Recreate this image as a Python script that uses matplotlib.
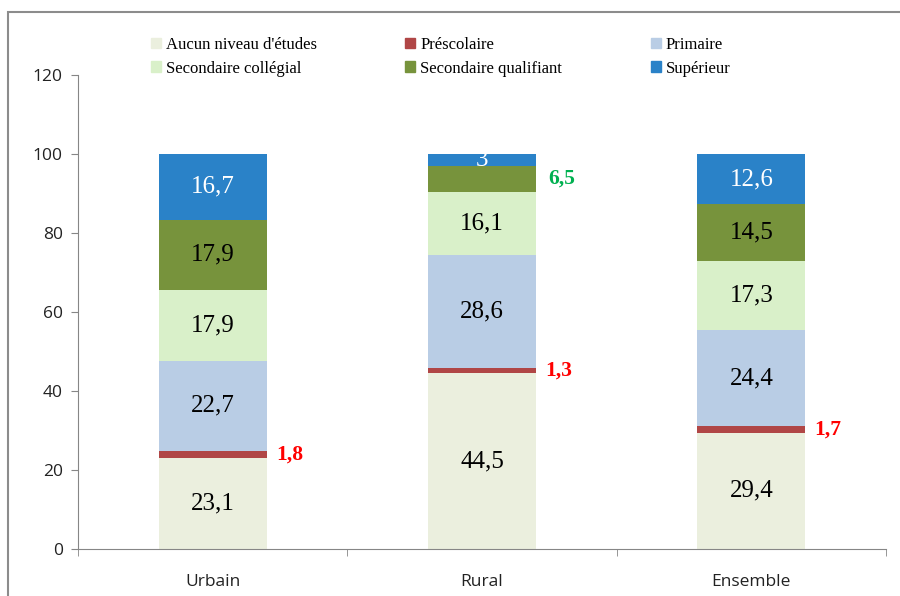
import matplotlib.pyplot as plt
from matplotlib.patches import Rectangle
import numpy as np

# Data
zones = ["Urbain", "Rural", "Ensemble"]
niveaux = ["Aucun niveau d'études", "Préscolaire", "Primaire",
           "Secondaire collégial", "Secondaire qualifiant", "Supérieur"]
aucun = [23.1, 44.5, 29.4]
prescolaire = [1.8, 1.3, 1.7]
primaire = [22.7, 28.6, 24.4]
sec_college = [17.9, 16.1, 17.3]
sec_qualif = [17.9, 6.5, 14.5]
superieur = [16.7, 3, 12.6]
labels_aucun = ["23,1", "44,5", "29,4"]
labels_presc = ["1,8", "1,3", "1,7"]
labels_prim = ["22,7", "28,6", "24,4"]
labels_coll = ["17,9", "16,1", "17,3"]
labels_qual = ["17,9", "6,5", "14,5"]
labels_sup = ["16,7", "3", "12,6"]

colors = ["#EBEFDE", "#B04646", "#B9CDE5", "#D9F0C9", "#77933C", "#2A82C8"]

series = [aucun, prescolaire, primaire, sec_college, sec_qualif, superieur]
series_labels = [labels_aucun, labels_presc, labels_prim, labels_coll, labels_qual, labels_sup]

fig = plt.figure(figsize=(9, 5.96), dpi=100)
ax = fig.add_axes([78 / 900, 47 / 596, 808 / 900, 474 / 596])

# outer frame of the chart area
fig.patches.append(Rectangle((8 / 900, -0.1), 1.2, (596 - 12) / 596 + 0.1,
                             transform=fig.transFigure, fill=False,
                             edgecolor="#8C8C8C", linewidth=1.5))

x = np.arange(len(zones))
width = 0.4
bottom = np.zeros(len(zones))
for vals, col, name in zip(series, colors, niveaux):
    ax.bar(x, vals, width, bottom=bottom, color=col, label=name, linewidth=0)
    bottom = bottom + np.array(vals)

serif = "Liberation Serif"
bottom = np.zeros(len(zones))
for k, (vals, labs) in enumerate(zip(series, series_labels)):
    for i in range(len(zones)):
        yc = bottom[i] + vals[i] / 2
        if k == 1:
            ax.text(x[i] + width / 2 + 0.035, yc, labs[i], color="#FF0000",
                    fontsize=15.5, fontweight="bold", family=serif,
                    ha="left", va="center")
        elif k == 4 and zones[i] == "Rural":
            ax.text(x[i] + width / 2 + 0.045, yc, labs[i], color="#00B050",
                    fontsize=15.5, fontweight="bold", family=serif,
                    ha="left", va="center")
        else:
            col = "white" if k == 5 else "black"
            t = ax.text(x[i], yc, labs[i], color=col, fontsize=18,
                        family=serif, ha="center", va="center")
            if k == 5:
                clip = Rectangle((x[i] - width / 2, 0), width, bottom[i] + vals[i],
                                 transform=ax.transData)
                t.set_clip_path(clip)
    bottom = bottom + np.array(vals)

ax.set_xlim(-0.5, 2.5)
ax.set_ylim(0, 120)
ax.set_yticks(range(0, 121, 20))
ax.set_xticks(x)
ax.set_xticklabels(zones)
ax.set_xticks([-0.5, 0.5, 1.5, 2.5], minor=True)
ax.tick_params(axis="x", which="major", length=0, pad=18, labelsize=12.5)
ax.tick_params(axis="x", which="minor", length=5, color="#868686", direction="out")
ax.tick_params(axis="y", length=5, color="#868686", direction="out", labelsize=12.5, pad=6)
for lab in ax.get_xticklabels() + ax.get_yticklabels():
    lab.set_family("Open Sans")
    lab.set_color("#222222")

ax.spines["top"].set_visible(False)
ax.spines["right"].set_visible(False)
ax.spines["left"].set_color("#868686")
ax.spines["bottom"].set_color("#868686")

# legend, filled row-wise like the original
order = [0, 3, 1, 4, 2, 5]
handles = [Rectangle((0, 0), 1, 1, color=colors[j]) for j in order]
names = [niveaux[j] for j in order]
fig.legend(handles, names, ncol=3, loc="upper left",
           bbox_to_anchor=(136 / 900, 1 - 22 / 596), frameon=False,
           prop={"family": serif, "size": 12}, handlelength=0.6, handleheight=0.6,
           handletextpad=0.3, columnspacing=5.3, labelspacing=0.45)

fig.savefig("out.png", dpi=100)
